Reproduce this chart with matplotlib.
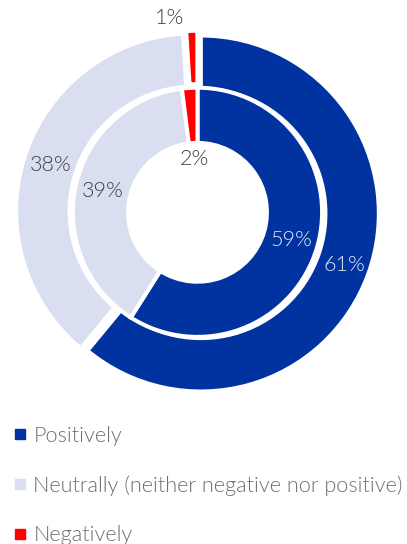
import matplotlib.pyplot as plt
from matplotlib.lines import Line2D
import numpy as np

categories = ['Positively', 'Neutrally (neither negative nor positive)', 'Negatively']
outer_vals = [61, 38, 1]
inner_vals = [59, 39, 2]
colors = ['#0033A0', '#D9DFF0', '#FF0000']
label_colors = ['#E4E8F4', '#404040', '#404040']

plt.rcParams['font.family'] = ['Lato', 'DejaVu Sans']
plt.rcParams['font.weight'] = 300

W, H = 407, 544
scale = 178.0          # pixels per data unit
cx, cy = 197.5, 212.3  # pie centre in pixels (from the top-left)
lim = 1.08

fig = plt.figure(figsize=(W / 100, H / 100), dpi=100)
half = lim * scale
ax = fig.add_axes([(cx - half) / W, 1 - (cy + half) / H, 2 * half / W, 2 * half / H])

wedge_style = dict(edgecolor='white', linewidth=2.9)

ax.pie(outer_vals, radius=1.0, colors=colors, startangle=90, counterclock=False,
       explode=[0.02] * len(outer_vals),
       wedgeprops=dict(width=0.30, **wedge_style))
ax.pie(inner_vals, radius=0.70, colors=colors, startangle=90, counterclock=False,
       wedgeprops=dict(width=0.31, **wedge_style))

ax.set_xlim(-lim, lim)
ax.set_ylim(-lim, lim)
ax.set_aspect('equal')
ax.axis('off')


def mid_angles(vals):
    edges = np.concatenate([[0], np.cumsum(vals)]) / np.sum(vals)
    mids = (edges[:-1] + edges[1:]) / 2
    return np.deg2rad(90 - mids * 360)


# outer ring: big slices labelled inside the ring
ang = mid_angles(outer_vals)
for v, a, r, c in zip(outer_vals[:2], ang[:2], [0.88, 0.865], label_colors[:2]):
    ax.text(r * np.cos(a), r * np.sin(a), f'{v}%', color=c,
            fontsize=15.5, ha='center', va='center')
# the thin negative slice gets its label just outside, to the left
a = ang[2]
ax.annotate(f'{outer_vals[2]}%', xy=(1.09 * np.cos(a), 1.09 * np.sin(a)),
            xytext=(-5, 0), textcoords='offset points', color=label_colors[2],
            fontsize=15.5, ha='right', va='center', annotation_clip=False)

# inner ring: the thin slice label drops into the hole
ang = mid_angles(inner_vals)
for v, a, r, c in zip(inner_vals, ang, [0.55, 0.545, 0.30], label_colors):
    ax.text(r * np.cos(a), r * np.sin(a), f'{v}%', color=c,
            fontsize=15.5, ha='center', va='center')

handles = [Line2D([], [], marker='s', linestyle='none', markersize=7.3,
                  markerfacecolor=c, markeredgecolor=c) for c in colors]
fig.legend(handles, categories, loc='upper left', bbox_to_anchor=(0.0, 1 - 417 / H),
           frameon=False, fontsize=15.6, labelcolor='#6E6E6E',
           handletextpad=0.14, labelspacing=1.36, handlelength=1.0, borderaxespad=0)

fig.savefig('out.png', dpi=100)
